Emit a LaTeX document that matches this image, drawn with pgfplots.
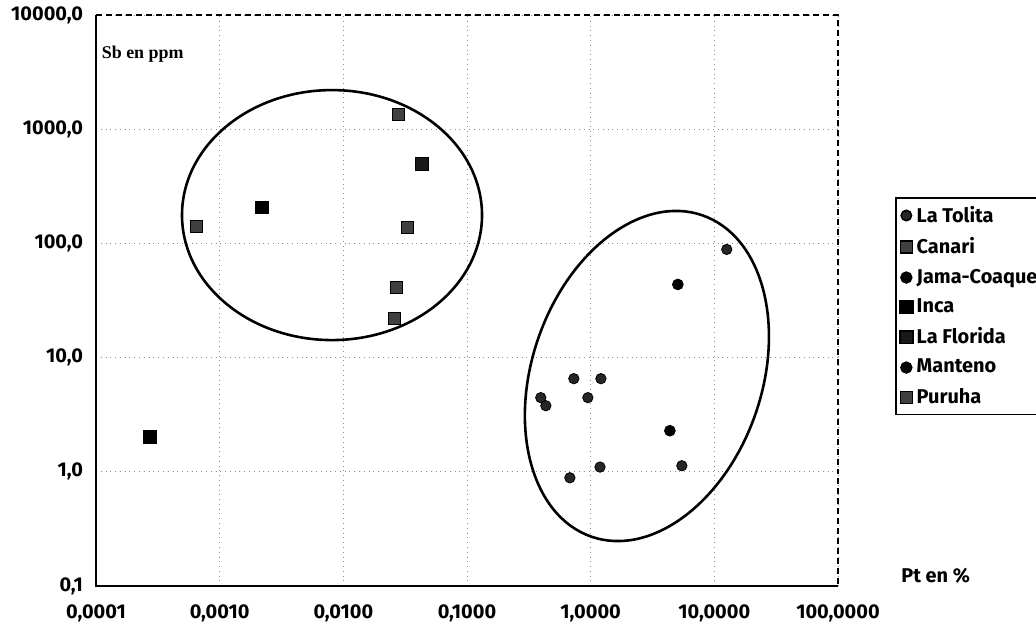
\documentclass[border=0pt]{standalone}
\usepackage{fontspec}
\setmainfont{Fira Sans}
\newfontfamily\serifb{Liberation Serif}
\usepackage{pgfplots}
\pgfplotsset{compat=1.18}
\begin{document}
\begin{tikzpicture}
\useasboundingbox (0,0) rectangle (518bp,313bp);
\begin{axis}[
  at={(48bp,20bp)}, anchor=south west,
  scale only axis, width=371bp, height=285.5bp,
  xmode=log, ymode=log,
  xmin=0.0001, xmax=100, ymin=0.1, ymax=10000,
  xtick={0.0001,0.001,0.01,0.1,1,10,100},
  xticklabels={{0,0001},{0,0010},{0,0100},{0,1000},{1,0000},{10,0000},{100,0000}},
  ytick={0.1,1,10,100,1000,10000},
  yticklabels={{0,1},{1,0},{10,0},{100,0},{1000,0},{10000,0}},
  xminorticks=false, yminorticks=false,
  grid=major,
  major grid style={dotted, black!45, line width=0.4pt},
  axis line style={draw=none},
  tick style={draw=none},
  ticklabel style={font=\bfseries\fontsize{10}{12}\selectfont},
  xticklabel style={yshift=-6bp},
  yticklabel style={xshift=-3bp},
  clip=false,
  legend style={at={(1.077,0.681)}, anchor=north west, draw=black, line width=0.8pt,
    font=\bfseries\fontsize{10}{12}\selectfont, row sep=2.2bp, inner xsep=2bp, inner ysep=2bp},
  legend cell align=left,
]
% La Tolita
\addplot[only marks, mark=*, mark size=2.6bp, mark options={fill=black!85, draw=black}] coordinates {
 (12.6,88.6) (0.731,6.54) (1.21,6.54) (0.395,4.46) (0.434,3.79) (0.949,4.46) (1.19,1.10) (5.46,1.13) (0.679,0.886)};
\addlegendentry{La Tolita}
% Canari
\addplot[only marks, mark=square*, mark size=3bp, mark options={fill=black!75, draw=black}] coordinates {
 (0.0281,1350) (0.0270,41) (0.0261,22)};
\addlegendentry{Canari}
% Jama-Coaque
\addplot[only marks, mark=*, mark size=2.7bp, mark options={fill=black, draw=black}] coordinates {
 (5.07,43.7)};
\addlegendentry{Jama-Coaque}
% Inca
\addplot[only marks, mark=square*, mark size=3.2bp, mark options={fill=black, draw=black}] coordinates {
 (0.0022,207) (0.000274,2.03)};
\addlegendentry{Inca}
% La Florida
\addplot[only marks, mark=square*, mark size=3.2bp, mark options={fill=black!90, draw=black}] coordinates {
 (0.0433,493)};
\addlegendentry{La Florida}
% Manteno
\addplot[only marks, mark=*, mark size=2.7bp, mark options={fill=black, draw=black}] coordinates {
 (4.37,2.29)};
\addlegendentry{Manteno}
% Puruha
\addplot[only marks, mark=square*, mark size=3bp, mark options={fill=black!75, draw=black}] coordinates {
 (0.00065,141) (0.0332,138)};
\addlegendentry{Puruha}
% ellipses
\draw[line width=1.3pt] (axis cs:0.0081,177) ellipse [x radius=75bp, y radius=62.5bp];
\draw[line width=1.3pt] (axis cs:2.85,6.9) ellipse [x radius=85bp, y radius=57.5bp, rotate=71];
% frame
\draw[line width=1pt] (rel axis cs:0,1) -- (rel axis cs:0,0) -- (rel axis cs:1,0);
\draw[densely dashed, line width=0.6pt] (rel axis cs:0,1) -- (rel axis cs:1,1) -- (rel axis cs:1,0);
% labels
\node[font=\serifb\bfseries\fontsize{9}{11}\selectfont, anchor=center] at (rel axis cs:0.063,0.932) {Sb en ppm};
\node[font=\bfseries\fontsize{10}{12}\selectfont, anchor=west] at (rel axis cs:1.076,0.0175) {Pt en \%};
\end{axis}
\end{tikzpicture}
\end{document}
